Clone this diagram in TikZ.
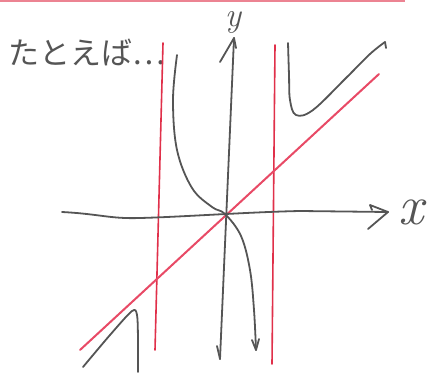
\documentclass[tikz,border=0pt]{standalone}
\usepackage{fontspec}
\newfontfamily\cjk{Noto Sans CJK JP}
\definecolor{pencil}{HTML}{555555}
\definecolor{redpen}{HTML}{E0304A}
\definecolor{pinkpen}{HTML}{E84A66}
\begin{document}
\begin{tikzpicture}[x=1pt,y=-1pt,
  pen/.style={draw=pencil,line width=1.8pt,line cap=round,line join=round},
  red/.style={draw=redpen,line width=1.6pt,line cap=round},
  pink/.style={draw=pinkpen,line width=2pt,line cap=round},
  lbl/.style={text=pencil,inner sep=0pt}]
\useasboundingbox (0,0) rectangle (427,374);
% top red border
\draw[draw=redpen!60,line width=1.5pt] (0,1) -- (405,1);
% title
\node[lbl,anchor=west,font=\cjk\fontsize{31}{31}\selectfont] (title) at (8,52) {たとえば…};
% asymptotes
\draw[red] (163,43) -- (155,350);
\draw[red] (275,45) -- (272,364);
% slant asymptote
\draw[pink] (80,350) -- (379,74);
% x-axis
\draw[pen] (62,212) .. controls (100,214) and (110,219) .. (140,218)
  .. controls (180,217) and (250,212) .. (300,211) -- (388,212);
\draw[pen] (368,229) -- (388,212) -- (370,205) -- (372,210);
\node[lbl,font=\itshape\fontsize{56}{56}\selectfont] (xl) at (411,212) {x};
% y-axis
\draw[pen] (220,359) -- (234,38);
\draw[pen] (220,62) -- (234,38) -- (236,48);
\draw[pen] (217,346) -- (220,359);
\node[lbl,font=\itshape\fontsize{34}{34}\selectfont] (yl) at (233,22) {y};
% middle branch
\draw[pen] plot[smooth,tension=0.6] coordinates {(177,55) (173,100) (177,150) (192,188) (212,207) (225,214) (241,236) (250,270) (254,310) (256,350)};
\draw[pen] (252,340) -- (256,350) -- (259,339);
% upper right branch
\draw[pen] plot[smooth,tension=0.6] coordinates {(288,43) (289,75) (290,100) (296,115) (313,110) (346,78) (370,54) (385,42)};
\draw[pen] (385,42) -- (386,48);
% lower left branch
\draw[pen] plot[smooth,tension=0.5] coordinates {(83,367) (110,335) (132,311) (137,315) (138,340) (138,372)};
\end{tikzpicture}
\end{document}
